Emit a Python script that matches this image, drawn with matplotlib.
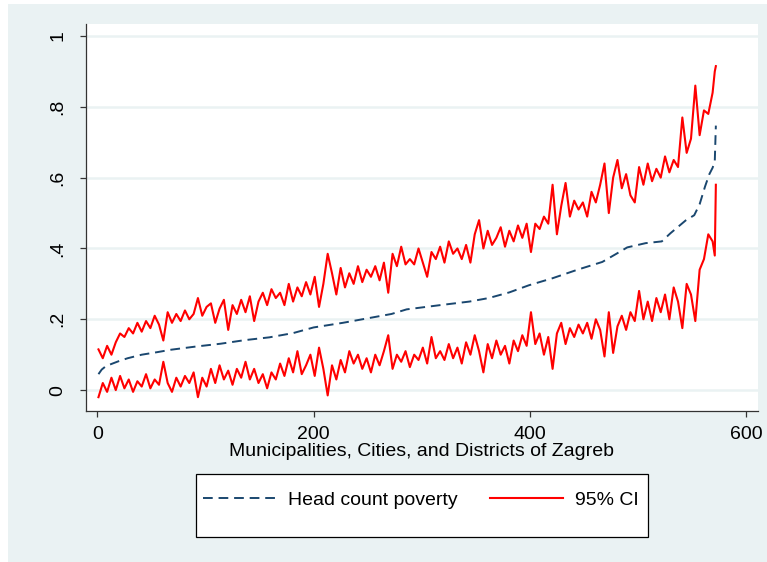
import numpy as np
import matplotlib.pyplot as plt
from matplotlib.patches import Rectangle

plt.rcParams['font.family'] = ['Liberation Sans', 'DejaVu Sans']

# head count poverty (sorted)
hc_x = [1, 4, 8, 14, 20, 28, 41, 55, 68, 91, 114, 136, 159, 181, 200, 227, 254,
        272, 286, 317, 344, 362, 381, 399, 421, 444, 467, 480, 490, 507, 522,
        530, 544, 552, 557, 562, 566, 569, 571, 572]
hc_y = [0.045, 0.058, 0.068, 0.075, 0.082, 0.09, 0.10, 0.107, 0.114, 0.123,
        0.131, 0.141, 0.149, 0.161, 0.177, 0.19, 0.205, 0.215, 0.228, 0.24,
        0.25, 0.26, 0.276, 0.296, 0.316, 0.34, 0.362, 0.385, 0.403, 0.415,
        0.42, 0.443, 0.479, 0.494, 0.525, 0.575, 0.61, 0.628, 0.646, 0.747]

# 95% confidence interval, every 4th unit
ci_x = list(range(1, 570, 4)) + [571, 572]
ci_upper = [
    0.115, 0.09, 0.125, 0.10, 0.135, 0.16, 0.15, 0.175, 0.16, 0.19,
    0.165, 0.195, 0.175, 0.21, 0.185, 0.14, 0.22, 0.19, 0.215, 0.195,
    0.225, 0.20, 0.215, 0.26, 0.21, 0.235, 0.245, 0.19, 0.23, 0.255,
    0.17, 0.24, 0.215, 0.255, 0.22, 0.265, 0.195, 0.25, 0.275, 0.24,
    0.285, 0.26, 0.275, 0.24, 0.30, 0.25, 0.29, 0.265, 0.305, 0.27,
    0.32, 0.235, 0.30, 0.385, 0.33, 0.27, 0.345, 0.29, 0.33, 0.30,
    0.35, 0.305, 0.34, 0.32, 0.35, 0.31, 0.36, 0.275, 0.385, 0.35,
    0.405, 0.355, 0.37, 0.355, 0.40, 0.36, 0.32, 0.39, 0.37, 0.405,
    0.36, 0.42, 0.385, 0.40, 0.37, 0.41, 0.36, 0.44, 0.48, 0.40,
    0.45, 0.41, 0.43, 0.46, 0.405, 0.45, 0.42, 0.465, 0.43, 0.47,
    0.39, 0.47, 0.455, 0.49, 0.47, 0.58, 0.44, 0.52, 0.585, 0.49,
    0.535, 0.51, 0.53, 0.49, 0.56, 0.53, 0.58, 0.64, 0.50, 0.60,
    0.65, 0.57, 0.61, 0.55, 0.53, 0.63, 0.58, 0.64, 0.59, 0.625,
    0.60, 0.66, 0.615, 0.65, 0.63, 0.77, 0.67, 0.71, 0.86, 0.72,
    0.79, 0.78, 0.84, 0.90, 0.915]
ci_lower = [
    -0.02, 0.02, -0.005, 0.035, 0.0, 0.04, 0.005, 0.03, -0.005, 0.025,
    0.01, 0.045, 0.005, 0.03, 0.015, 0.08, 0.02, -0.005, 0.035, 0.01,
    0.04, 0.02, 0.05, -0.02, 0.035, 0.01, 0.06, 0.02, 0.07, 0.03,
    0.055, 0.015, 0.06, 0.035, 0.08, 0.03, 0.06, 0.02, 0.045, 0.005,
    0.05, 0.03, 0.075, 0.04, 0.09, 0.05, 0.11, 0.045, 0.07, 0.10,
    0.04, 0.12, 0.06, -0.015, 0.07, 0.03, 0.085, 0.05, 0.11, 0.075,
    0.10, 0.06, 0.09, 0.05, 0.10, 0.07, 0.11, 0.155, 0.06, 0.10,
    0.08, 0.11, 0.065, 0.10, 0.085, 0.12, 0.075, 0.15, 0.09, 0.11,
    0.085, 0.13, 0.09, 0.12, 0.075, 0.135, 0.10, 0.155, 0.11, 0.05,
    0.13, 0.09, 0.14, 0.10, 0.125, 0.075, 0.14, 0.11, 0.155, 0.125,
    0.22, 0.13, 0.16, 0.10, 0.15, 0.06, 0.16, 0.19, 0.13, 0.175,
    0.15, 0.185, 0.16, 0.19, 0.145, 0.20, 0.17, 0.095, 0.22, 0.105,
    0.18, 0.21, 0.17, 0.22, 0.195, 0.28, 0.20, 0.25, 0.195, 0.26,
    0.22, 0.27, 0.20, 0.29, 0.25, 0.175, 0.30, 0.27, 0.195, 0.34,
    0.37, 0.44, 0.42, 0.38, 0.58]

y_ticks = [0, 0.2, 0.4, 0.6, 0.8, 1]
y_labels = ['0', '.2', '.4', '.6', '.8', '1']
x_ticks = [0, 200, 400, 600]

bg = '#eaf2f3'
navy = '#1a476f'
red = '#ff0000'
fs = 14

fig = plt.figure(figsize=(7.67, 5.62), dpi=100, facecolor='white')
# light background of the graph region (behind the axes)
fig.patches.append(Rectangle((8 / 767, 0), 1, 1 - 4 / 562, transform=fig.transFigure,
                             facecolor=bg, edgecolor='none', zorder=-5))

ax = fig.add_axes([0.1116, 0.2687, 0.8767, 0.6886])
ax.set_zorder(2)
ax.set_facecolor('white')

ax.plot(hc_x, hc_y, color=navy, lw=1.4, dashes=(5, 3), label='Head count poverty')
ax.plot(ci_x, ci_upper, color=red, lw=1.5, label='95% CI')
ax.plot(ci_x, ci_lower, color=red, lw=1.5)

ax.set_xlim(-10.9, 611)
ax.set_ylim(-0.059, 1.034)

# gridlines + axes
ax.set_yticks(y_ticks)
ax.set_yticklabels(y_labels, rotation=90, va='center')
ax.set_xticks(x_ticks)
ax.grid(axis='y', color=bg, lw=1.8)
ax.set_axisbelow(True)
for s in ['top', 'right']:
    ax.spines[s].set_visible(False)
for s in ['left', 'bottom']:
    ax.spines[s].set_color('#333333')
    ax.spines[s].set_linewidth(0.9)
ax.tick_params(axis='both', length=4, width=0.9, color='#333333', labelsize=fs)
ax.tick_params(axis='y', pad=10)
ax.tick_params(axis='x', pad=7)
ax.set_xlabel('Municipalities, Cities, and Districts of Zagreb', fontsize=fs, labelpad=0)

# legend box
fig.patches.append(Rectangle((196 / 767, 1 - 537 / 562), 452 / 767, 63 / 562,
                             transform=fig.transFigure, facecolor='white',
                             edgecolor='black', lw=0.9, zorder=1))
handles, labels = ax.get_legend_handles_labels()
fig.legend(handles, labels, ncol=2, frameon=False, loc='center',
           bbox_to_anchor=(0.549, 1 - 500 / 562), fontsize=fs,
           handlelength=3.75, handletextpad=0.62, columnspacing=1.64)

plt.savefig('out.png', dpi=100, facecolor=fig.get_facecolor())
